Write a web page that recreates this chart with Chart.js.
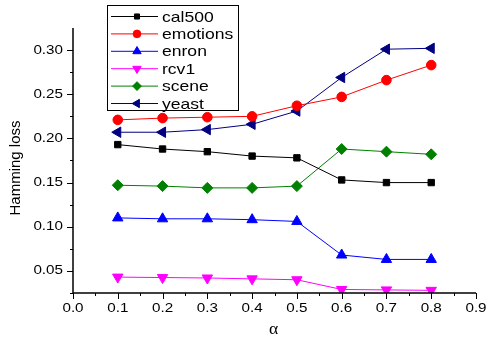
<!DOCTYPE html>
<html><head><meta charset="utf-8">
<script src="https://cdn.jsdelivr.net/npm/chart.js@4/dist/chart.umd.min.js"></script>
<style>html,body{margin:0;padding:0;background:#fff}#wrap{width:487px;height:338px;position:relative}</style>
</head><body><div id="wrap"><canvas id="c" width="487" height="338"></canvas></div>
<script>
const alphas = [0.1, 0.2, 0.3, 0.4, 0.5, 0.6, 0.7, 0.8];
const cal500   = [0.193, 0.188, 0.185, 0.180, 0.178, 0.153, 0.150, 0.150];
const emotions = [0.221, 0.223, 0.224, 0.225, 0.237, 0.247, 0.266, 0.283];
const enron    = [0.110, 0.109, 0.109, 0.108, 0.106, 0.068, 0.063, 0.063];
const rcv1     = [0.043, 0.0425, 0.042, 0.041, 0.040, 0.029, 0.0285, 0.028];
const scene    = [0.147, 0.146, 0.144, 0.144, 0.146, 0.188, 0.185, 0.182];
const yeast    = [0.207, 0.207, 0.210, 0.216, 0.231, 0.269, 0.301, 0.302];
const xTicks = [0.0, 0.1, 0.2, 0.3, 0.4, 0.5, 0.6, 0.7, 0.8, 0.9];
const yTicks = [0.05, 0.10, 0.15, 0.20, 0.25, 0.30];

const FONT = '"Liberation Sans", Arial, sans-serif';
const STRETCH = 1.17;
function pts(v){ return alphas.map((a,i)=>({x:a,y:v[i]})); }
function ds(label, data, color, style, rot, r){
  return {label, data: pts(data), borderColor: color, backgroundColor: color,
    pointStyle: style, pointRotation: rot, pointRadius: r, pointBorderWidth: 1,
    borderWidth: 1, tension: 0, fill: false};
}
const datasets = [
  ds('cal500', cal500, '#000000', 'rect', 0, 4.5),
  ds('emotions', emotions, '#ff0000', 'circle', 0, 4.8),
  ds('enron', enron, '#0000ff', 'triangle', 0, 6),
  ds('rcv1', rcv1, '#ff00ff', 'triangle', 180, 6),
  ds('scene', scene, '#008000', 'rectRot', 0, 5.5),
  ds('yeast', yeast, '#000080', 'triangle', 270, 6)
];

// draw horizontally stretched text (the reference text is wide)
function sText(ctx, txt, x, y, align, k){
  ctx.save();
  ctx.translate(x, y); ctx.scale(k || STRETCH, 1);
  ctx.textAlign = align; ctx.fillText(txt, 0, 0);
  ctx.restore();
}

const axesPlugin = {
  id: 'axesPlugin',
  afterDraw(chart){
    const ctx = chart.ctx, xs = chart.scales.x, ys = chart.scales.y, a = chart.chartArea;
    ctx.save();
    ctx.strokeStyle = '#000'; ctx.lineWidth = 1.5;
    ctx.beginPath();
    ctx.moveTo(a.left, a.top); ctx.lineTo(a.left, a.bottom); ctx.lineTo(a.right, a.bottom);
    ctx.stroke();
    ctx.lineWidth = 1;
    ctx.beginPath();
    for (let i = 0; i <= 18; i++) {
      const v = i * 0.05; const px = Math.round(xs.getPixelForValue(v)) + 0.5;
      const len = (i % 2 === 0) ? 6 : 3;
      ctx.moveTo(px, a.bottom); ctx.lineTo(px, a.bottom + len);
    }
    for (let i = 1; i <= 12; i++) {
      const v = i * 0.025; const py = Math.round(ys.getPixelForValue(v)) + 0.5;
      const len = (i % 2 === 0) ? 6 : 3;
      ctx.moveTo(a.left, py); ctx.lineTo(a.left - len, py);
    }
    ctx.stroke();
    // tick labels
    ctx.fillStyle = '#000';
    ctx.font = '13px ' + FONT; ctx.textBaseline = 'middle';
    xTicks.forEach(v => sText(ctx, v.toFixed(1), xs.getPixelForValue(v), a.bottom + 15, 'center'));
    yTicks.forEach(v => sText(ctx, v.toFixed(2), a.left - 10, ys.getPixelForValue(v), 'right'));
    // axis titles
    ctx.font = '16px "Liberation Serif", serif';
    sText(ctx, 'α', (a.left + a.right) / 2 - 1, 330, 'center', 1.1);
    ctx.save();
    ctx.translate(16, 168); ctx.rotate(-Math.PI / 2);
    ctx.font = '15px ' + FONT; ctx.textAlign = 'center'; ctx.fillText('Hamming loss', 0, 0);
    ctx.restore();
    // legend
    const bx = 107, by = 5, bw = 131, bh = 105;
    ctx.fillStyle = '#fff'; ctx.fillRect(bx, by, bw, bh);
    ctx.strokeStyle = '#000'; ctx.lineWidth = 1;
    ctx.strokeRect(bx + 0.5, by + 0.5, bw, bh);
    ctx.font = '15px ' + FONT; ctx.textBaseline = 'middle';
    chart.data.datasets.forEach((d, i) => {
      const y = 16.5 + i * 17.4;
      ctx.strokeStyle = d.borderColor; ctx.lineWidth = 1;
      ctx.beginPath(); ctx.moveTo(111, y); ctx.lineTo(158, y); ctx.stroke();
      ctx.fillStyle = d.backgroundColor;
      Chart.helpers.drawPoint(ctx, {pointStyle: d.pointStyle, radius: d.pointRadius * 0.8, rotation: d.pointRotation, borderWidth: 1}, 137, y);
      ctx.fillStyle = '#000';
      sText(ctx, d.label, 162, y + 1, 'left');
    });
    ctx.restore();
  }
};

new Chart(document.getElementById('c'), {
  type: 'line',
  data: { datasets },
  options: {
    responsive: false, animation: false, devicePixelRatio: 1,
    layout: { padding: { left: 0, right: 11, top: 28, bottom: 0 } },
    plugins: { legend: { display: false }, tooltip: { enabled: false } },
    scales: {
      x: {
        type: 'linear', min: 0, max: 0.9,
        afterBuildTicks: s => { s.ticks = xTicks.map(v => ({value: v})); },
        afterFit: s => { s.height = 45; },
        grid: { display: false, drawTicks: false }, border: { display: false },
        ticks: { display: false }
      },
      y: {
        type: 'linear', min: 0.025, max: 0.325,
        afterBuildTicks: s => { s.ticks = yTicks.map(v => ({value: v})); },
        afterFit: s => { s.width = 73; },
        grid: { display: false, drawTicks: false }, border: { display: false },
        ticks: { display: false }
      }
    }
  },
  plugins: [axesPlugin]
});
</script></body></html>
